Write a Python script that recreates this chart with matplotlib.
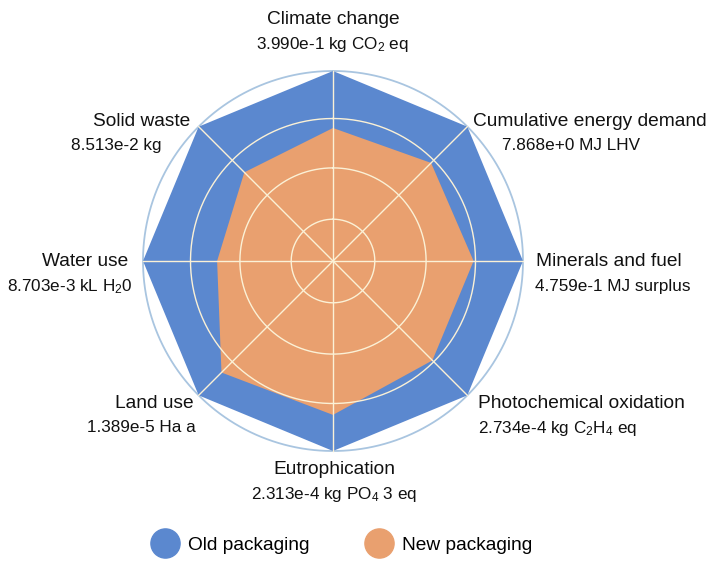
import numpy as np
import matplotlib
matplotlib.use("Agg")
import matplotlib.pyplot as plt
from matplotlib.lines import Line2D

plt.rcParams["mathtext.fontset"] = "custom"
plt.rcParams["mathtext.rm"] = "Liberation Sans"
plt.rcParams["mathtext.it"] = "Liberation Sans"

categories = ["Climate change", "Cumulative energy demand", "Minerals and fuel",
              "Photochemical oxidation", "Eutrophication", "Land use",
              "Water use", "Solid waste"]
units = ["3.990e-1 kg CO$_2$ eq", "7.868e+0 MJ LHV", "4.759e-1 MJ surplus",
         "2.734e-4 kg C$_2$H$_4$ eq", "2.313e-4 kg PO$_4$ 3 eq", "1.389e-5 Ha a",
         "8.703e-3 kL H$_2$0", "8.513e-2 kg"]
old_packaging = [1.0, 1.0, 1.0, 1.0, 1.0, 1.0, 1.0, 1.0]
new_packaging = [0.70, 0.73, 0.74, 0.74, 0.81, 0.83, 0.61, 0.66]
rings = [0.22, 0.49, 0.75]
series_names = ["Old packaging", "New packaging"]

BLUE = "#5b88cf"
ORANGE = "#e9a06f"
GRID = "#fbf1d6"
OUTER = "#a9c5e0"
FONT = ["Liberation Sans", "DejaVu Sans"]
TXT = "#111111"

W, H = 712, 562
fig = plt.figure(figsize=(W / 100, H / 100), dpi=100)

cx, cy, R = 333, 261, 190
rmax = 1.05
half = R * rmax
ax = fig.add_axes([(cx - half) / W, (H - cy - half) / H, 2 * half / W, 2 * half / H],
                  projection="polar")
ax.set_theta_offset(np.pi / 2)
ax.set_theta_direction(-1)
ax.set_ylim(0, rmax)
ax.grid(False)
ax.set_xticks([])
ax.set_yticks([])
ax.spines["polar"].set_visible(False)
ax.patch.set_visible(False)

n = len(categories)
theta = np.linspace(0, 2 * np.pi, n, endpoint=False)
tc = np.append(theta, theta[0])

full = np.linspace(0, 2 * np.pi, 400)
ax.plot(full, np.full_like(full, 1.0), color=OUTER, lw=1.3, zorder=0.5)
ax.fill(tc, np.append(old_packaging, old_packaging[0]), color=BLUE, lw=0, zorder=1)
ax.fill(tc, np.append(new_packaging, new_packaging[0]), color=ORANGE, lw=0, zorder=2)
for r in rings:
    ax.plot(full, np.full_like(full, r), color=GRID, lw=1.0, zorder=3)
for t in theta:
    ax.plot([t, t], [0, 1.0], color=GRID, lw=1.0, zorder=3)


def ftxt(x, y, s, size, ha):
    fig.text(x / W, 1 - y / H, s, ha=ha, va="center", fontsize=size,
             family=FONT, color=TXT)

# label placements (pixel coords): (x1, y1, x2, y2, ha)
lab_pos = [
    (333.5, 19, 332.5, 45, "center"),
    (590, 121, 571.5, 146, "center"),
    (609, 262, 613, 287, "center"),
    (478, 403, 478, 428, "left"),
    (334, 469, 334.5, 494, "center"),
    (154, 403, 141.5, 428, "center"),
    (85, 262, 69.5, 287, "center"),
    (142, 122, 116, 146, "center"),
]
for (x1, y1, x2, y2, ha), c, u in zip(lab_pos, categories, units):
    ftxt(x1, y1, c, 13.8, ha)
    ftxt(x2, y2, u, 12.3, ha)

handles = [Line2D([], [], marker="o", ls="", markersize=21, color=BLUE),
           Line2D([], [], marker="o", ls="", markersize=21, color=ORANGE)]
fig.legend(handles, series_names, loc="center", bbox_to_anchor=(343 / W, 1 - 545 / H),
           ncol=2, frameon=False, prop={"family": FONT, "size": 13.8},
           handletextpad=0.6, columnspacing=3.0, handlelength=1.2,
           borderaxespad=0, borderpad=0)

fig.savefig("out.png", dpi=100)
